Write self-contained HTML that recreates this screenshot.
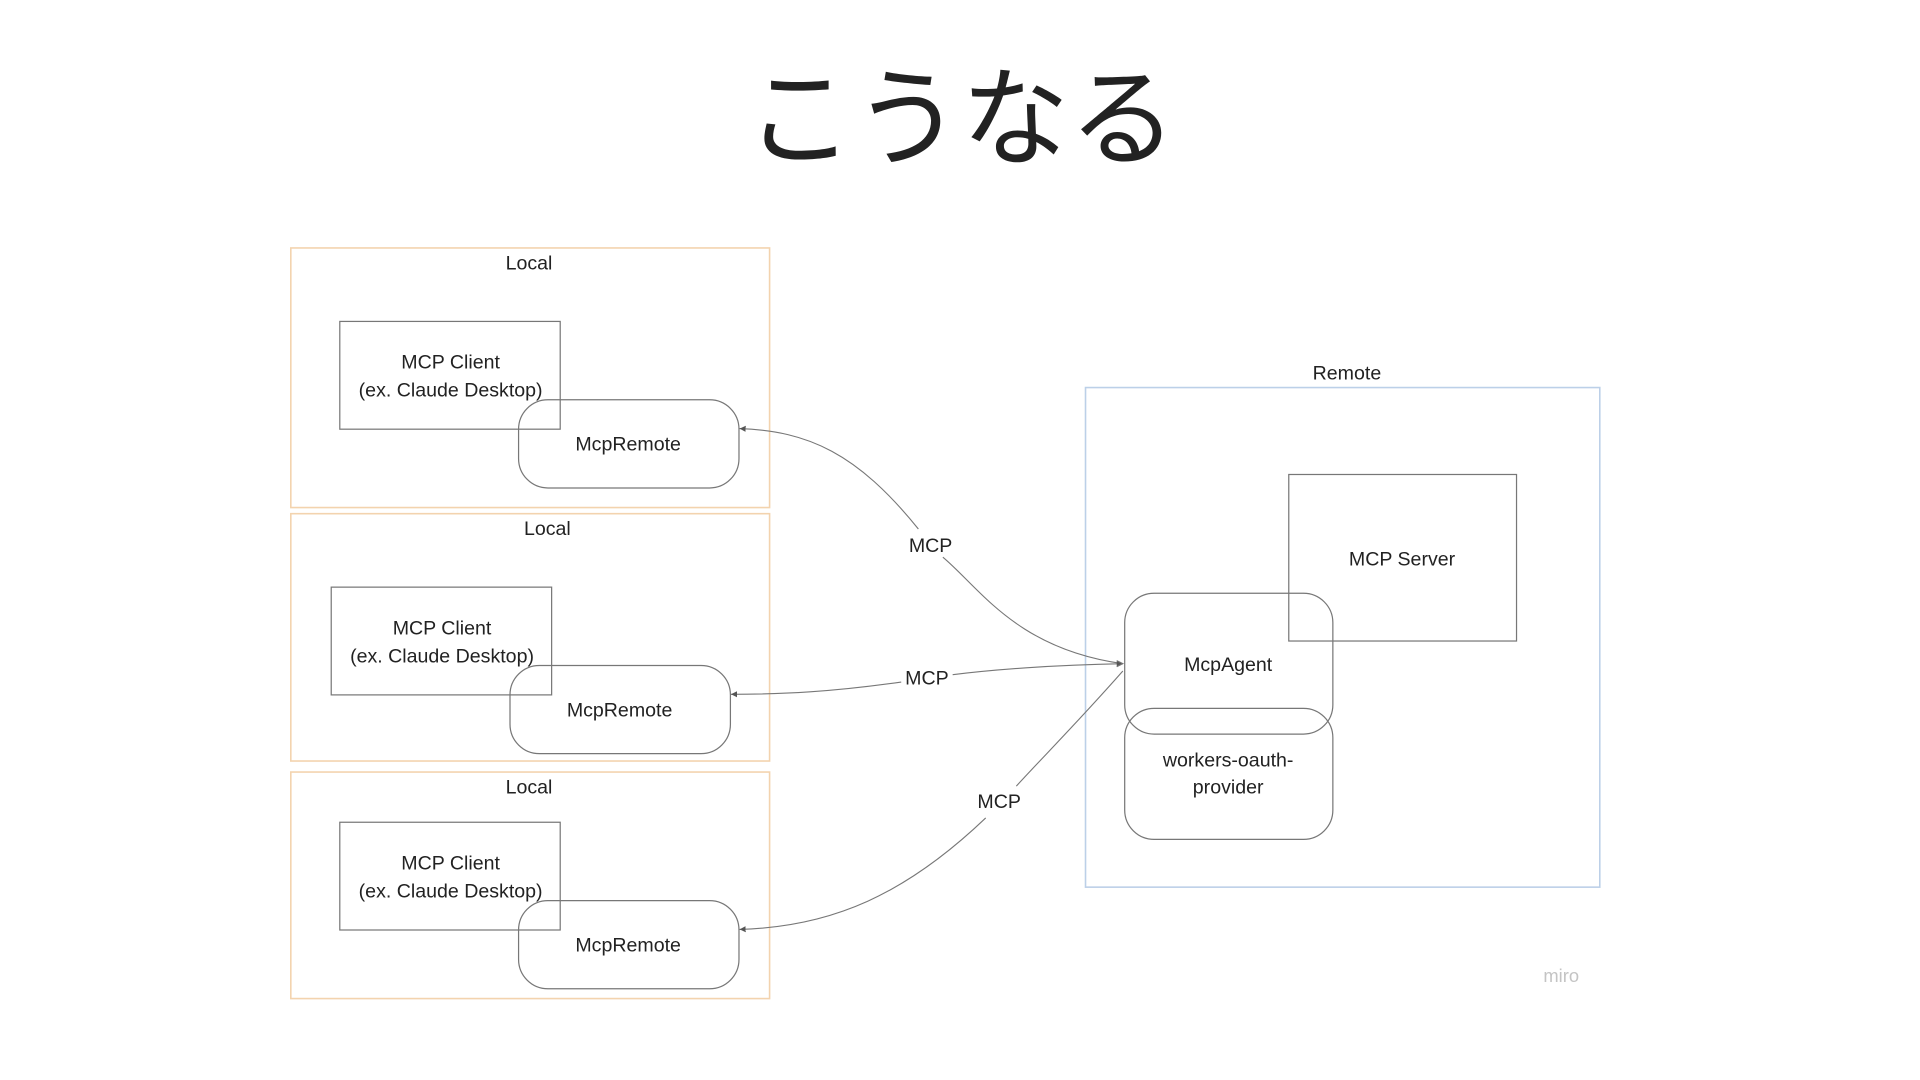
<!DOCTYPE html>
<html><head><meta charset="utf-8"><style>
html,body{margin:0;padding:0;background:#fff;width:1920px;height:1080px;overflow:hidden}
svg{display:block}
text{font-family:"Liberation Sans","Noto Sans CJK JP",sans-serif;fill:#222}
</style></head><body>
<svg width="1920" height="1080" viewBox="0 0 1568 882" xmlns="http://www.w3.org/2000/svg">
<defs><marker id="a" markerWidth="6" markerHeight="6" refX="5" refY="3" orient="auto" markerUnits="userSpaceOnUse"><path d="M0,0.5 L5,3 L0,5.5 z" fill="#555"/></marker></defs>
<text x="785" y="128" font-size="88" text-anchor="middle" fill="#111" style="font-family:'Noto Sans CJK JP',sans-serif">こうなる</text>
<g fill="none" stroke="#f3d3ae" stroke-width="1.3">
<rect x="237.5" y="202.5" width="391" height="212"/>
<rect x="237.5" y="419.5" width="391" height="202"/>
<rect x="237.5" y="630.5" width="391" height="185"/>
</g>
<rect x="886.5" y="316.5" width="420" height="408" fill="none" stroke="#bcd0e8" stroke-width="1.3"/>
<g font-size="16" text-anchor="middle">
<text x="432" y="220">Local</text><text x="447" y="437">Local</text><text x="432" y="648">Local</text>
<text x="1100" y="310">Remote</text>
</g>
<g fill="none" stroke="#777" stroke-width="1">
<rect x="277.5" y="262.5" width="180" height="88"/>
<rect x="270.5" y="479.5" width="180" height="88"/>
<rect x="277.5" y="671.5" width="180" height="88"/>
<rect x="423.5" y="326.5" width="180" height="72" rx="24"/>
<rect x="416.5" y="543.5" width="180" height="72" rx="24"/>
<rect x="423.5" y="735.5" width="180" height="72" rx="24"/>
<rect x="1052.5" y="387.5" width="186" height="136"/>
<rect x="918.5" y="484.5" width="170" height="115" rx="24"/>
<rect x="918.5" y="578.5" width="170" height="107" rx="24"/>
</g>
<g font-size="16" text-anchor="middle">
<text x="368" y="301">MCP Client</text><text x="368" y="324">(ex. Claude Desktop)</text>
<text x="361" y="518">MCP Client</text><text x="361" y="541">(ex. Claude Desktop)</text>
<text x="368" y="710">MCP Client</text><text x="368" y="733">(ex. Claude Desktop)</text>
<text x="513" y="368">McpRemote</text><text x="506" y="585">McpRemote</text><text x="513" y="777">McpRemote</text>
<text x="1145" y="462">MCP Server</text>
<text x="1003" y="548">McpAgent</text>
<text x="1003" y="626">workers-oauth-</text><text x="1003" y="648">provider</text>
</g>
<g fill="none" stroke="#777" stroke-width="0.9">
<path d="M917,542 C830,530 800,480 770,455 M750,432 C700,370 660,352 604,350" marker-end="url(#a)"/>
<path d="M917,542 C860,543 810,547 778,551 M736,557 C680,565 640,567 597,567" marker-end="url(#a)"/>
<path d="M917,548 C880,590 850,620 830,642 M805,668 C740,730 680,757 604,759" marker-end="url(#a)"/>
<path d="M912,539.5 L917,542 L912,544.5" fill="#555"/>
</g>
<g font-size="16" text-anchor="middle">
<text x="760" y="451">MCP</text><text x="757" y="559">MCP</text><text x="816" y="660">MCP</text>
</g>
<text x="1275" y="802" font-size="15" text-anchor="middle" fill="#c4c4c4" style="fill:#c4c4c4">miro</text>
</svg>
</body></html>
